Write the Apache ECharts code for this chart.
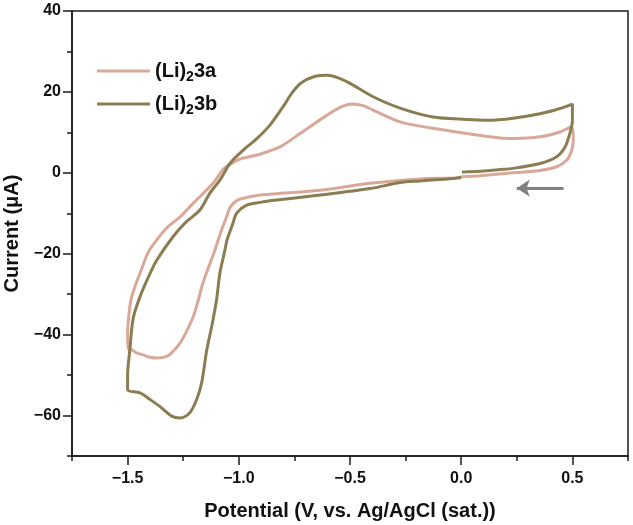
<!DOCTYPE html>
<html lang="en">
<head>
    <meta charset="UTF-8">
    <title>CV curves</title>
    <script src="https://cdn.jsdelivr.net/npm/echarts@6/dist/echarts.min.js"></script>
    <style>
        body { margin: 0; background: #fff; }
        #main { width: 633px; height: 525px; }
    </style>
</head>
<body>
<div id="main"></div>
<script type="text/javascript">
    // (Li)2 3a - potential (V) and current (uA), in scan order
    var potential3a = [0.0, -0.185, -0.41, -0.635, -0.86, -0.905, -0.98, -1.01, -1.04, -1.055, -1.08, -1.107, -1.135, -1.16, -1.182, -1.205, -1.235, -1.264, -1.295, -1.324, -1.369, -1.40, -1.43, -1.46, -1.48, -1.497,
        -1.50, -1.495, -1.485, -1.465, -1.444, -1.407, -1.369, -1.32, -1.264, -1.21, -1.16, -1.11, -1.07, -1.03, -0.995, -0.905, -0.815, -0.725, -0.605, -0.54, -0.49, -0.44, -0.396, -0.275, -0.127, 0.025, 0.175, 0.233, 0.354, 0.444, 0.497,
        0.504, 0.497, 0.474, 0.429, 0.354, 0.233, 0.085, 0.0];
    var current3a = [-1.3, -1.5, -2.6, -4.3, -5.3, -5.5, -6.3, -6.9, -8.6, -10.9, -14.5, -19.0, -23.2, -27.0, -31.4, -35.6, -39.2, -42.1, -44.1, -45.4, -45.8, -45.6, -45.0, -44.5, -43.8, -43.4,
        -39.7, -35.6, -31.4, -27.8, -24.8, -19.6, -16.6, -13.4, -10.9, -7.8, -5.1, -2.2, 0.9, 2.4, 3.4, 4.6, 6.4, 9.7, 14.2, 16.3, 17.0, 16.6, 15.5, 12.6, 11.0, 9.7, 8.6, 8.5, 8.9, 10.1, 11.4,
        8.1, 5.6, 3.1, 1.5, 0.6, 0.0, -0.7, -1.0];

    // (Li)2 3b
    var potential3b = [0.0, -0.035, -0.185, -0.275, -0.41, -0.635, -0.86, -0.905, -0.965, -1.01, -1.026, -1.053, -1.062, -1.085, -1.10, -1.12, -1.144, -1.167, -1.19, -1.22, -1.264, -1.30, -1.354, -1.40, -1.444, -1.50,
        -1.50, -1.49, -1.475, -1.444, -1.40, -1.369, -1.296, -1.24, -1.175, -1.13, -1.085, -1.04, -0.98, -0.92, -0.86, -0.80, -0.76, -0.72, -0.66, -0.60, -0.55, -0.50, -0.396, -0.275, -0.127, 0.025, 0.12, 0.233, 0.354, 0.444, 0.50,
        0.50, 0.489, 0.467, 0.429, 0.354, 0.233, 0.175, 0.085, 0.025, 0.003];
    var current3b = [-1.1, -1.4, -2.0, -2.4, -3.9, -5.5, -6.9, -7.3, -8.0, -10.0, -12.4, -16.6, -19.0, -24.8, -31.4, -37.5, -43.8, -51.9, -56.1, -59.3, -60.6, -60.2, -57.8, -56.0, -54.4, -53.6,
        -50.0, -43.8, -36.0, -30.6, -25.0, -21.6, -15.8, -12.3, -9.2, -5.0, -1.8, 2.3, 5.6, 8.4, 11.8, 16.4, 19.8, 22.2, 23.8, 24.1, 23.4, 22.1, 18.8, 16.0, 13.8, 13.2, 13.0, 13.5, 14.6, 15.9, 17.0,
        13.0, 9.8, 6.4, 4.0, 2.3, 1.1, 0.8, 0.4, 0.25, 0.2];

    var seriesNames = ['(Li)₂3a', '(Li)₂3b'];
    var seriesColors = ['#d9a898', '#8b7d52'];

    // scan direction arrow (potential, current)
    var arrowFrom = [0.46, -3.8];
    var arrowTo = [0.25, -3.8];

    var xMajor = [-1.5, -1.0, -0.5, 0.0, 0.5];
    var yMajor = [-60, -40, -20, 0, 20, 40];

    function zip(xs, ys) {
        return xs.map(function (x, i) { return [x, ys[i]]; });
    }

    var fontFamily = 'Arial, "Liberation Sans", sans-serif';
    var axisColor = '#1a1a1a';

    var myChart = echarts.init(document.getElementById('main'));

    var option = {
        animation: false,
        backgroundColor: '#fff',
        grid: {
            left: 72, right: 5, top: 11, bottom: 69,
            show: true, borderColor: axisColor, borderWidth: 1.5,
            outerBoundsMode: 'none'
        },
        legend: {
            orient: 'vertical',
            left: 92, top: 56,
            icon: 'rect',
            itemWidth: 53, itemHeight: 3, itemGap: 10,
            data: seriesNames,
            formatter: function (name) {
                var parts = name.split('₂');
                return '{a|' + parts[0] + '}{s|2}{a|' + parts[1] + '}';
            },
            textStyle: {
                rich: {
                    a: { fontFamily: fontFamily, fontWeight: 'bold', fontSize: 20, color: '#111' },
                    s: { fontFamily: fontFamily, fontWeight: 'bold', fontSize: 14, color: '#111', padding: [12, 0, 0, 0] }
                }
            }
        },
        xAxis: [{
            type: 'value', min: -1.75, max: 0.75, interval: 0.25,
            position: 'bottom',
            name: 'Potential (V, vs. Ag/AgCl (sat.))',
            nameLocation: 'middle', nameGap: 45,
            nameTextStyle: { fontFamily: fontFamily, fontWeight: 'bold', fontSize: 20, color: '#111' },
            axisLine: { onZero: false, lineStyle: { color: axisColor, width: 1.5 } },
            axisTick: { inside: false, length: 5, lineStyle: { color: axisColor, width: 1.5 } },
            axisLabel: {
                margin: 15,
                fontFamily: fontFamily, fontWeight: 'bold', fontSize: 16, color: '#111',
                formatter: function (v) {
                    if (Math.round(v * 4) % 2 !== 0) return '';
                    return v.toFixed(1).replace('-', '−');
                }
            },
            splitLine: { show: false }
        }, {
            type: 'value', min: -1.75, max: 0.75,
            position: 'bottom',
            axisLine: { show: false, onZero: false },
            axisTick: { inside: false, length: 9, customValues: xMajor, lineStyle: { color: axisColor, width: 1.5 } },
            axisLabel: { show: false },
            splitLine: { show: false }
        }],
        yAxis: [{
            type: 'value', min: -70, max: 40, interval: 10,
            position: 'left',
            name: 'Current (μA)',
            nameLocation: 'middle', nameGap: 49,
            nameTextStyle: { fontFamily: fontFamily, fontWeight: 'bold', fontSize: 20, color: '#111' },
            axisLine: { onZero: false, lineStyle: { color: axisColor, width: 1.5 } },
            axisTick: { inside: false, length: 5, lineStyle: { color: axisColor, width: 1.5 } },
            axisLabel: {
                margin: 11,
                fontFamily: fontFamily, fontWeight: 'bold', fontSize: 16, color: '#111',
                formatter: function (v) {
                    if (v % 20 !== 0) return '';
                    return String(v).replace('-', '−');
                }
            },
            splitLine: { show: false }
        }, {
            type: 'value', min: -70, max: 40,
            position: 'left',
            axisLine: { show: false, onZero: false },
            axisTick: { inside: false, length: 9, customValues: yMajor, lineStyle: { color: axisColor, width: 1.5 } },
            axisLabel: { show: false },
            splitLine: { show: false }
        }],
        series: [{
            name: seriesNames[0],
            type: 'line',
            data: zip(potential3a, current3a),
            symbol: 'none',
            smooth: 0.3,
            color: seriesColors[0],
            lineStyle: { width: 3, color: seriesColors[0] },
            z: 2
        }, {
            name: seriesNames[1],
            type: 'line',
            data: zip(potential3b, current3b),
            symbol: 'none',
            smooth: 0.3,
            color: seriesColors[1],
            lineStyle: { width: 3, color: seriesColors[1] },
            z: 3,
            markLine: {
                silent: true,
                symbol: ['none', 'arrow'],
                symbolSize: [13, 13],
                label: { show: false },
                lineStyle: { type: 'solid', color: '#808080', width: 3 },
                data: [[{ coord: arrowFrom }, { coord: arrowTo }]]
            }
        }]
    };

    myChart.setOption(option);
</script>
</body>
</html>
